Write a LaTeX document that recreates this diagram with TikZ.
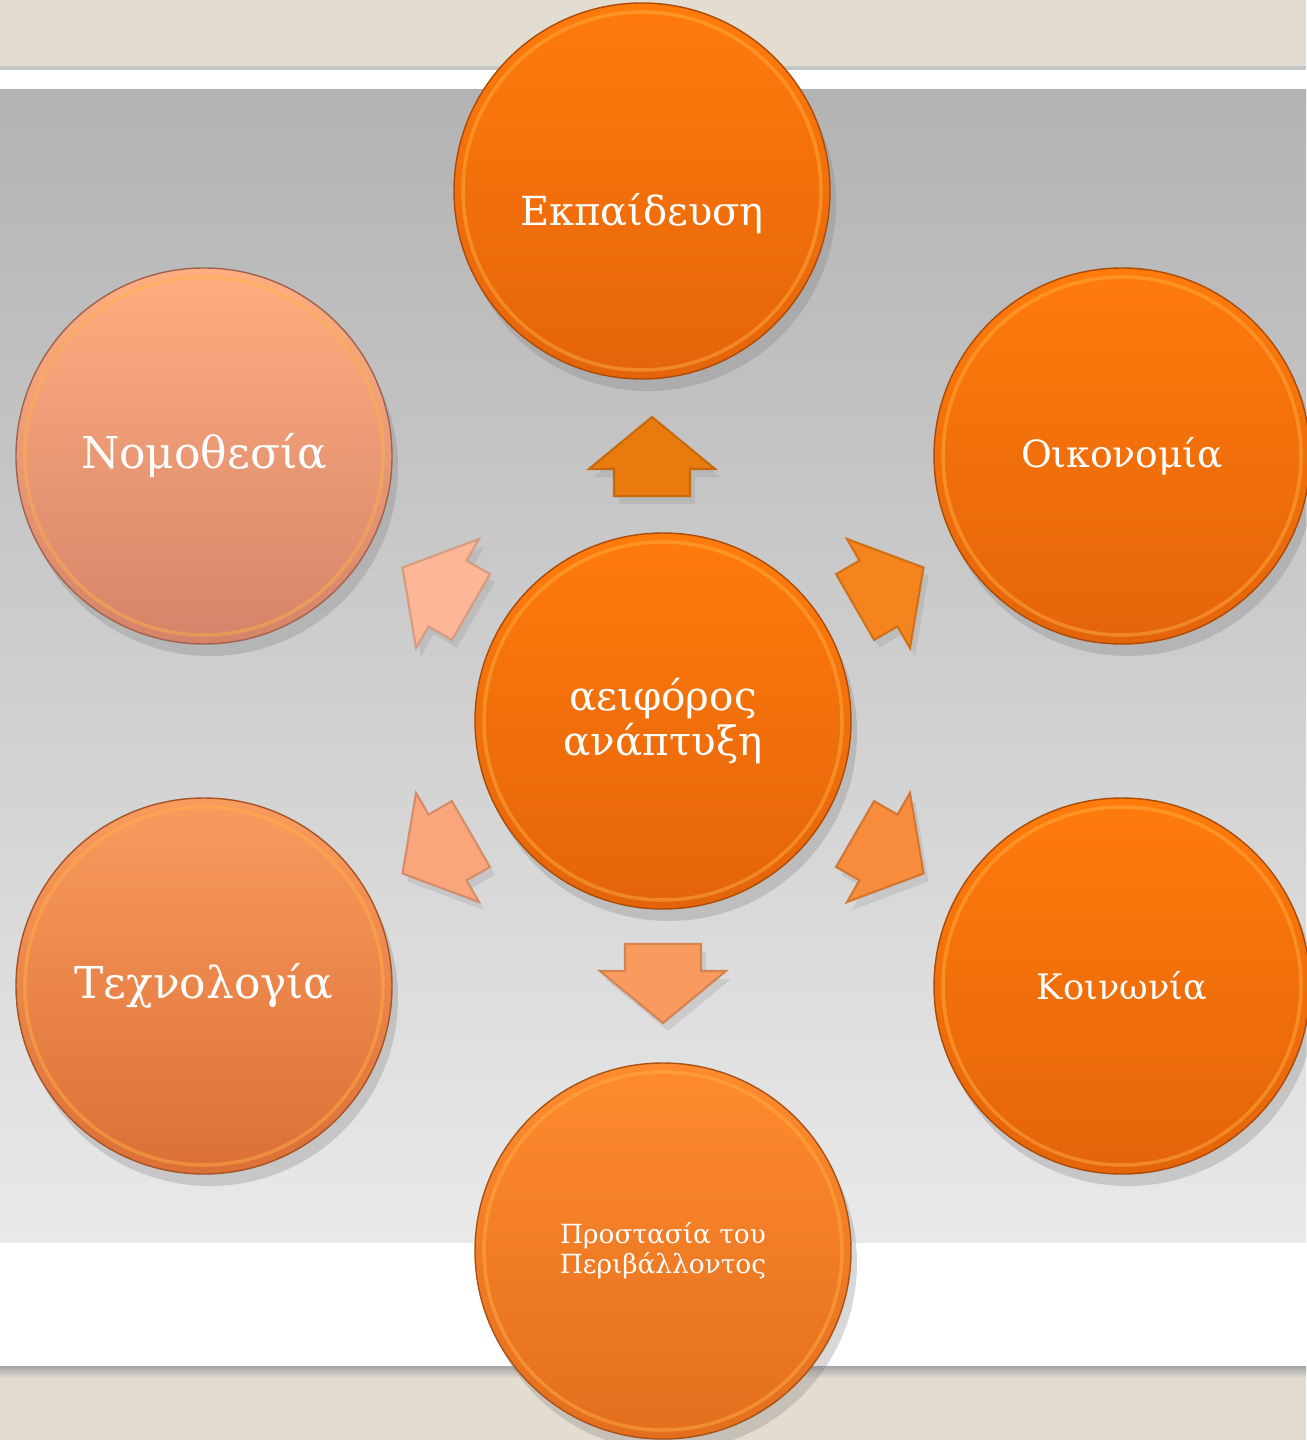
\documentclass[tikz,border=0pt]{standalone}
\usepackage{fontspec}
\setmainfont{DejaVu Serif}
\usetikzlibrary{shadows}

\definecolor{beige}{HTML}{E3DDD1}
\definecolor{panelTop}{HTML}{B3B3B3}
\definecolor{panelBot}{HTML}{E9E9E9}
\definecolor{orangeTop}{HTML}{FF7B0C}
\definecolor{orangeBot}{HTML}{E4640A}
\definecolor{envTop}{HTML}{FF8B2E}
\definecolor{envBot}{HTML}{E36E1E}
\definecolor{techTop}{HTML}{FA9B5E}
\definecolor{techBot}{HTML}{DC7036}
\definecolor{lawTop}{HTML}{FFAE80}
\definecolor{lawBot}{HTML}{D5846A}
\definecolor{rim}{HTML}{FFB347}
\definecolor{arrUp}{HTML}{E97B0E}
\definecolor{arrNE}{HTML}{F5841E}
\definecolor{arrSE}{HTML}{F78C3C}
\definecolor{arrDown}{HTML}{F99B5E}
\definecolor{arrSW}{HTML}{FBA57C}
\definecolor{arrNW}{HTML}{FDB696}

\tikzset{
  ball/.style 2 args={circle, inner sep=0pt, minimum size=3.76cm, text=white, align=center,
    top color=#1, bottom color=#2, draw=#2!75!black, thin,
    drop shadow={shadow xshift=0.6mm, shadow yshift=-1.2mm, opacity=0.3},
    path picture={\draw[rim, opacity=0.45, line width=1pt]
      (path picture bounding box.center) circle (1.79cm);}},
  blockarrow/.style={line width=0.6pt, line join=miter,
    drop shadow={shadow xshift=0.5mm, shadow yshift=-0.8mm, opacity=0.2}},
}

% block arrow: x, y, angle, colour
\newcommand{\blockarrow}[4]{%
  \draw[blockarrow, fill=#4, draw=#4!85!black, shift={(#1,#2)}, rotate=#3]
    (0,-41) -- (63,11) -- (38,11) -- (38,38) -- (-38,38) -- (-38,11) -- (-63,11) -- cycle;}

\begin{document}
\begin{tikzpicture}[x=0.1mm, y=-0.1mm]
  \useasboundingbox (0,0) rectangle (1306,1440);
  % slide background
  \fill[beige] (0,0) rectangle (1306,1440);
  \fill[gray!45] (0,66) rectangle (1306,70);
  \fill[white] (0,70) rectangle (1306,1366);
  \shade[top color=panelTop, bottom color=panelBot] (0,90) rectangle (1306,1242);
  \shade[top color=gray!70, bottom color=beige] (0,1366) rectangle (1306,1378);

  % topics
  \node[ball={orangeTop}{orangeBot}, font=\fontsize{11.4}{14}\selectfont] (edu) at (642,191) {\raisebox{-3.5mm}[0pt][0pt]{Εκπαίδευση}};
  \node[ball={lawTop}{lawBot}, font=\fontsize{12.5}{14}\selectfont] (law) at (204,456) {Νομοθεσία};
  \node[ball={orangeTop}{orangeBot}, font=\fontsize{10.7}{13}\selectfont] (econ) at (1122,456) {Οικονομία};
  \node[ball={techTop}{techBot}, font=\fontsize{12.5}{14}\selectfont] (tech) at (204,986) {Τεχνολογία};
  \node[ball={orangeTop}{orangeBot}, font=\fontsize{10}{13}\selectfont] (soc) at (1122,986) {Κοινωνία};
  \node[ball={envTop}{envBot}, font=\fontsize{7.5}{8.6}\selectfont] (env) at (663,1251) {Προστασία του\\Περιβάλλοντος};

  % arrows out of the centre
  \blockarrow{652}{458}{0}{arrUp}
  \blockarrow{888}{588}{-60}{arrNE}
  \blockarrow{888}{853}{-120}{arrSE}
  \blockarrow{663}{982}{180}{arrDown}
  \blockarrow{438}{853}{120}{arrSW}
  \blockarrow{438}{588}{60}{arrNW}

  % centre
  \node[ball={orangeTop}{orangeBot}, font=\fontsize{11.5}{13}\selectfont] (core) at (663,721) {αειφόρος\\ανάπτυξη};
\end{tikzpicture}
\end{document}
